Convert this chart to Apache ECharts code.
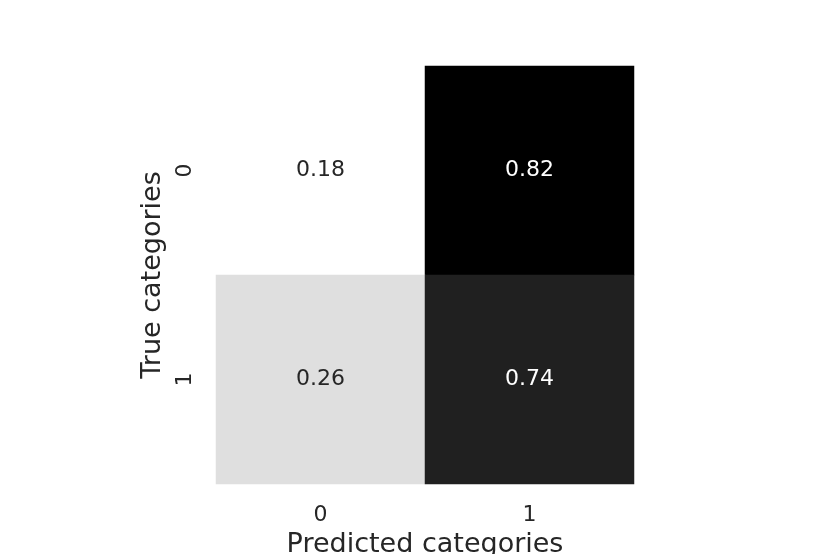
<!DOCTYPE html>
<html>
<head>
<meta charset="utf-8">
<script src="https://cdn.jsdelivr.net/npm/echarts@6/dist/echarts.min.js"></script>
<style>
    html, body { margin: 0; padding: 0; background: #fff; }
    #chart { width: 830px; height: 554px; }
</style>
</head>
<body>
<div id="chart"></div>
<script>
    // confusion matrix, rows = true, cols = predicted
    const predicted = ['0', '1']
    const actual = ['0', '1']
    const matrix = [
        [0.18, 0.82],
        [0.26, 0.74]
    ]

    let cells = []
    for (var i = 0; i < actual.length; i++) {
        for (var j = 0; j < predicted.length; j++) {
            cells.push([j, i, matrix[i][j]])
        }
    }

    const font = 'DejaVu Sans'
    let option = {
        backgroundColor: '#fff',
        animation: false,
        grid: {
            left: 216,
            right: 196,
            top: 66,
            bottom: 70,
            outerBoundsMode: 'none',
            containLabel: false
        },
        xAxis: {
            type: 'category',
            data: predicted,
            name: 'Predicted categories',
            nameLocation: 'middle',
            nameGap: 47,
            nameTextStyle: { fontFamily: font, fontSize: 27, color: '#262626' },
            axisLine: { show: false },
            axisTick: { show: false },
            splitLine: { show: false },
            axisLabel: { fontFamily: font, fontSize: 22, color: '#262626', margin: 20 }
        },
        yAxis: {
            type: 'category',
            data: actual,
            inverse: true,
            name: 'True categories',
            nameLocation: 'middle',
            nameRotate: 90,
            nameGap: 49,
            nameTextStyle: { fontFamily: font, fontSize: 27, color: '#262626' },
            axisLine: { show: false },
            axisTick: { show: false },
            splitLine: { show: false },
            axisLabel: { fontFamily: font, fontSize: 22, color: '#262626', margin: 20, rotate: 90 }
        },
        visualMap: {
            show: false,
            min: 0.18,
            max: 0.82,
            inRange: { color: ['#ffffff', '#000000'] }
        },
        series: [{
            type: 'heatmap',
            label: {
                show: true,
                fontFamily: font,
                fontSize: 22,
                color: '#262626',
                formatter: function (p) {
                    return p.value[2].toFixed(2)
                }
            },
            itemStyle: { borderWidth: 0 },
            // light text on dark cells
            data: cells.map(function (c) {
                return {
                    value: c,
                    label: { color: c[2] > 0.5 ? '#ffffff' : '#262626' }
                }
            })
        }]
    }

    let chart = echarts.init(document.getElementById('chart'))
    chart.setOption(option, true)
</script>
</body>
</html>
